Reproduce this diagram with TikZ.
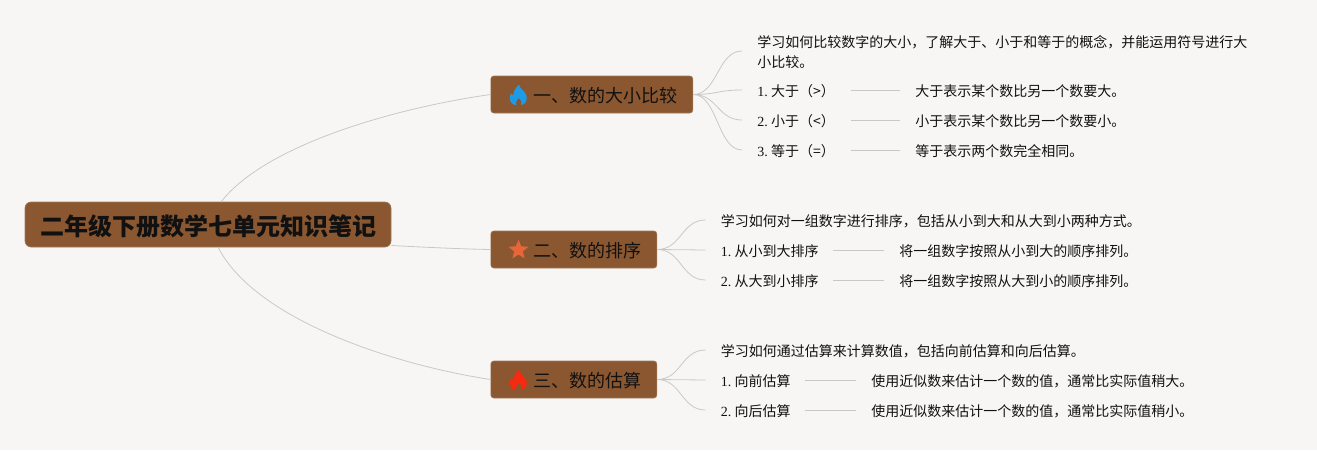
\documentclass[tikz,border=0pt]{standalone}
\usepackage{fontspec}
\setmainfont{Liberation Serif}
\newfontfamily\cjk{Noto Sans CJK SC}
\usetikzlibrary{shapes.geometric,calc}
\definecolor{pagebg}{HTML}{F8F6F4}
\definecolor{boxfill}{HTML}{8A5730}
\definecolor{boxedge}{HTML}{A07A5A}
\definecolor{linkcol}{HTML}{C8C8C6}
\definecolor{textcol}{HTML}{111111}
\definecolor{iconblue}{HTML}{1E9BE8}
\definecolor{iconstar}{HTML}{E8653A}
\definecolor{iconred}{HTML}{F52A10}
\newcommand{\flameicon}[2]{%
  \fill[#2,shift={(#1)}]
    (0.5,-10.5) .. controls (1.5,-6.5) and (4,-5.5) .. (6.5,-2)
    .. controls (9,1.5) and (9,6) .. (5.5,9)
    .. controls (4.5,9.8) and (3.5,10) .. (2.5,10)
    .. controls (4,8) and (3,5.5) .. (0.3,3)
    .. controls (-2,5.5) and (-3.8,8) .. (-2.2,10)
    .. controls (-4,10) and (-5.5,9.5) .. (-6.5,8.5)
    .. controls (-9.5,5.5) and (-9,1) .. (-7.5,-1.5)
    .. controls (-7,-0.5) and (-6.3,0) .. (-5.2,0.5)
    .. controls (-5.5,-3) and (-3,-7) .. (0.5,-10.5) -- cycle;
}
\newcommand{\lbl}[2]{\makebox[#1][l]{#2}}
\newcommand{\num}[1]{{\rmfamily #1.\ }\hspace{-0.2pt}}
\tikzset{
  x=0.75pt,y=-0.75pt,
  rootbox/.style={draw=boxedge,line width=0.5pt,fill=boxfill,rounded corners=4.5pt,
    minimum width=274.5pt,minimum height=33.75pt,inner sep=0pt,text=textcol,
    text height=17pt,text depth=0pt,
    font=\cjk\bfseries\fontsize{18pt}{22pt}\selectfont},
  branchbox/.style={draw=boxedge,line width=0.5pt,fill=boxfill,rounded corners=2.25pt,
    minimum height=27.75pt,inner sep=0pt,text=textcol,anchor=west,text height=13.5pt,text depth=1pt,
    font=\cjk\fontsize{13.5pt}{17pt}\selectfont},
  leaf/.style={anchor=west,inner xsep=11.25pt,inner ysep=0pt,align=left,text=textcol,
    text height=10pt,text depth=1pt,
    font=\cjk\fontsize{10.5pt}{15pt}\selectfont},
  link/.style={draw=linkcol,line width=0.6pt},
  starmark/.style={star,star points=5,star point ratio=2.25,fill=iconstar,inner sep=0pt,minimum size=15.5pt},
}
\begin{document}
\begin{tikzpicture}
\useasboundingbox[fill=pagebg] (0,0) rectangle (1317,450);

\node[rootbox] (root) at (208,224.5) {二年级下册数学七单元知识笔记};
\coordinate (rootT) at (221,202);
\coordinate (rootB) at (218,247);

\node[branchbox,minimum width=151.5pt] (b1) at (490.5,94.5) {\hspace*{31.5pt}一、数的大小比较\hspace*{11.5pt}};
\node[branchbox,minimum width=124.5pt] (b2) at (490.5,249.5) {\hspace*{31.5pt}二、数的排序\hspace*{11.5pt}};
\node[branchbox,minimum width=124.5pt] (b3) at (490.5,379.5) {\hspace*{31.5pt}三、数的估算\hspace*{11.5pt}};
\flameicon{518.5,95}{iconblue}
\node[starmark] (starb2) at (518.5,250) {};
\flameicon{518.5,380}{iconred}

\node[leaf,text height=25pt,text depth=1pt] (a0) at (742,51) {学习如何比较数字的大小，了解大于、小于和等于的概念，并能运用符号进行大\\小比较。};
\node[leaf] (a1) at (742,90) {\lbl{58.5pt}{\num{1}大于（>）}};
\node[leaf] (a2) at (742,120) {\lbl{58.5pt}{\num{2}小于（<）}};
\node[leaf] (a3) at (742,150) {\lbl{58.5pt}{\num{3}等于（=）}};
\node[leaf] (a1x) at (900,90) {大于表示某个数比另一个数要大。};
\node[leaf] (a2x) at (900,120) {小于表示某个数比另一个数要小。};
\node[leaf] (a3x) at (900,150) {等于表示两个数完全相同。};

\node[leaf] (c0) at (705.5,220) {学习如何对一组数字进行排序，包括从小到大和从大到小两种方式。};
\node[leaf] (c1) at (705.5,250) {\lbl{72.4pt}{\num{1}从小到大排序}};
\node[leaf] (c2) at (705.5,280) {\lbl{72.4pt}{\num{2}从大到小排序}};
\node[leaf] (c1x) at (884,250) {将一组数字按照从小到大的顺序排列。};
\node[leaf] (c2x) at (884,280) {将一组数字按照从大到小的顺序排列。};

\node[leaf] (d0) at (705.5,350) {学习如何通过估算来计算数值，包括向前估算和向后估算。};
\node[leaf] (d1) at (705.5,380) {\lbl{51.4pt}{\num{1}向前估算}};
\node[leaf] (d2) at (705.5,410) {\lbl{51.4pt}{\num{2}向后估算}};
\node[leaf] (d1x) at (856,380) {使用近似数来估计一个数的值，通常比实际值稍大。};
\node[leaf] (d2x) at (856,410) {使用近似数来估计一个数的值，通常比实际值稍小。};

\draw[link] (rootT) .. controls (265,145) and (395,108) .. (b1.west);
\draw[link] (root.east) ++(0,21) .. controls (420,247) and (460,249) .. (b2.west);
\draw[link] (rootB) .. controls (255,320) and (395,365) .. (b3.west);

\foreach \p/\c in {b1/a0,b1/a1,b1/a2,b1/a3,b2/c0,b2/c1,b2/c2,b3/d0,b3/d1,b3/d2}{
  \draw[link] (\p.east) .. controls ($(\p.east)!0.5!(\c.west |- \p.east)$) and ($(\c.west)!0.5!(\p.east |- \c.west)$) .. (\c.west);
}
\foreach \s/\t in {a1/a1x,a2/a2x,a3/a3x,c1/c1x,c2/c2x,d1/d1x,d2/d2x}{
  \draw[link] (\s.east) -- (\t.west);
}
\end{tikzpicture}
\end{document}
